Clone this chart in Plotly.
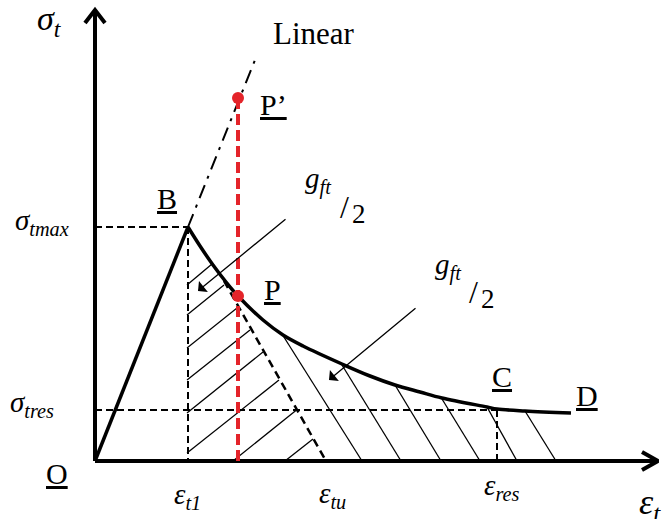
import plotly.graph_objects as go

# key strains / stresses of the schematic (arbitrary units, origin at O)
eps_t1 = 93
eps_tu = 231
eps_res = 402
eps_p = 143
sig_tmax = 234
sig_tres = 51
sig_p = 165
sig_p_lin = 363

# linear extension end
lin_end_x = 160
lin_end_y = 401

# softening curve B -> D
curve_x = [93, 105, 118, 131, 143, 168, 188, 208, 247, 275, 300, 325, 347, 392, 402, 430, 476]
curve_y = [234, 215, 196, 179, 165, 141, 126, 115, 97, 85, 76, 69, 63, 54, 52, 50, 48]

# unloading line P -> eps_tu
unload_x = [129, 231]
unload_y = [180, 0]

# hatch "/" under B-P
hatch_a_x0 = [92, 92, 92, 92, 92, 92, 138, 190]
hatch_a_y0 = [176, 146, 113, 81, 48, 8, 0, 0]
hatch_a_x1 = [117, 129, 142, 155, 168, 184, 201.5, 218]
hatch_a_y1 = [197, 176, 153, 131, 109, 81, 51, 22]

# hatch "\" under P-D
hatch_b_x0 = [187, 247, 300, 347, 392, 430]
hatch_b_y0 = [127, 96, 76, 62, 54, 50]
hatch_b_x1 = [267, 306, 346, 385, 422, 461]
hatch_b_y1 = [0, 0, 0, 0, 0, 0]

# axis ends
x_axis_end = 563
y_axis_end = 451

# g_ft/2 pointer arrows (tail x, tail y, head x, head y)
ptr_tail_x = [192, 322]
ptr_tail_y = [243, 154]
ptr_head_x = [103, 234]
ptr_head_y = [170, 81]

BLACK = "black"
RED = "#e4242a"
MATH = "Liberation Serif"


def segs(x0, y0, x1, y1):
    xs, ys = [], []
    for a, b, c, d in zip(x0, y0, x1, y1):
        xs += [a, c, None]
        ys += [b, d, None]
    return xs, ys


fig = go.Figure()

def line(x, y, width, color=BLACK, dash="solid", shape="linear"):
    fig.add_trace(go.Scatter(x=x, y=y, mode="lines", hoverinfo="skip",
                             line=dict(color=color, width=width, dash=dash, shape=shape)))

# hatching
hx, hy = segs(hatch_a_x0, hatch_a_y0, hatch_a_x1, hatch_a_y1)
line(hx, hy, 1.3)
hx, hy = segs(hatch_b_x0, hatch_b_y0, hatch_b_x1, hatch_b_y1)
line(hx, hy, 1.3)

# dashed guides
line([0, eps_t1], [sig_tmax, sig_tmax], 2, dash="7px,4px")
line([eps_t1, eps_t1], [sig_tmax, 0], 2, dash="7px,4px")
line([0, eps_res], [sig_tres, sig_tres], 2, dash="7px,4px")
line([eps_res, eps_res], [sig_tres, 0], 2, dash="7px,4px")
line(unload_x, unload_y, 2.5, dash="8px,5px")

# linear extension
line([eps_t1, lin_end_x], [sig_tmax, lin_end_y], 2, dash="14px,7px,3px,7px")

# loading branch and softening curve
line([0, eps_t1], [0, sig_tmax], 3.5)
line(curve_x, curve_y, 3.5, shape="spline")

# axes with open arrow heads
line([0, 0, None, -10, 0, 10], [0, y_axis_end, None, y_axis_end - 13, y_axis_end, y_axis_end - 13], 4)
line([0, x_axis_end, None, x_axis_end - 16, x_axis_end, x_axis_end - 16], [0, 0, None, 9, 0, -9], 4)

# red vertical
line([eps_p, eps_p], [0, sig_p_lin], 4, color=RED, dash="11px,5px")
fig.add_trace(go.Scatter(x=[eps_p, eps_p], y=[sig_p, sig_p_lin], mode="markers", hoverinfo="skip",
                         marker=dict(color=RED, size=12)))

# pointer arrows
for tx, ty, hx_, hy_ in zip(ptr_tail_x, ptr_tail_y, ptr_head_x, ptr_head_y):
    fig.add_annotation(x=hx_, y=hy_, ax=tx, ay=ty, xref="x", yref="y", axref="x", ayref="y",
                       text="", showarrow=True, arrowhead=1, arrowsize=1.8, arrowwidth=1.3,
                       arrowcolor=BLACK)

labels = [
    ("<i>σ<sub>t</sub></i>", -46, 440, 34, "center"),
    ("Linear", 219, 428, 31, "center"),
    ("<u>P’</u>", 178, 357, 30, "center"),
    ("<u>B</u>", 72, 263, 30, "center"),
    ("<i>σ<sub>tmax</sub></i>", -53, 239, 29, "center"),
    ("<i>g<sub>ft</sub></i>", 223, 281, 29, "center"),
    ("/", 249, 254, 32, "center"),
    ("2", 264, 247, 27, "center"),
    ("<i>g<sub>ft</sub></i>", 353, 195, 29, "center"),
    ("/", 378, 169, 32, "center"),
    ("2", 393, 162, 27, "center"),
    ("<u>P</u>", 177, 172, 30, "center"),
    ("<u>C</u>", 407, 85, 30, "center"),
    ("<u>D</u>", 492, 66, 30, "center"),
    ("<i>σ<sub>tres</sub></i>", -63, 57, 29, "center"),
    ("<u>O</u>", -38, -12, 30, "center"),
    ("<i>ε<sub>t1</sub></i>", 92, -35, 29, "center"),
    ("<i>ε<sub>tu</sub></i>", 237, -34, 29, "center"),
    ("<i>ε<sub>res</sub></i>", 407, -26, 29, "center"),
    ("<i>ε<sub>t</sub></i>", 542, -43, 36, "left"),
]
for txt, x, y, size, anchor in labels:
    fig.add_annotation(x=x, y=y, xref="x", yref="y", text=txt, showarrow=False,
                       xanchor=anchor, yanchor="middle",
                       font=dict(family=MATH, size=size, color=BLACK))

fig.update_layout(
    width=663, height=519,
    margin=dict(l=0, r=0, t=0, b=0),
    paper_bgcolor="white", plot_bgcolor="white",
    showlegend=False,
    xaxis=dict(range=[-95, 568], visible=False, fixedrange=True),
    yaxis=dict(range=[-58, 461], visible=False, fixedrange=True),
)

# page has a default body margin; drop it so the figure sits at the corner
fig.write_html("out.html", config={"displayModeBar": False},
               post_script="document.body.style.margin='0px';")
